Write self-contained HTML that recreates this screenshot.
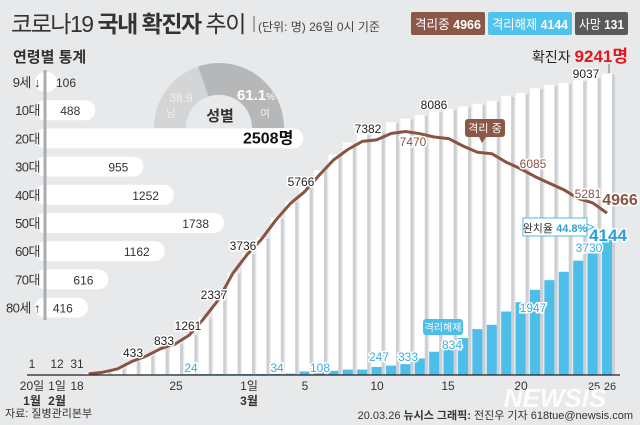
<!DOCTYPE html>
<html><head><meta charset="utf-8"><style>
body{margin:0;width:640px;height:425px;overflow:hidden;background:#e7e9eb;font-family:"Liberation Sans","Noto Sans CJK KR",sans-serif;}
svg{display:block}
text{font-family:"Liberation Sans","Noto Sans CJK KR",sans-serif;}
</style></head><body>
<svg id="s" width="640" height="425" viewBox="0 0 640 425" xmlns="http://www.w3.org/2000/svg">
<rect width="640" height="425" fill="#e7e9eb"/>
<g id="bars"></g>
<text x="11" y="32" font-size="23" fill="#333" letter-spacing="-1.5">코로나19 <tspan font-weight="bold">국내 확진자</tspan> 추이</text>
<line x1="254" y1="16" x2="254" y2="32" stroke="#666"/>
<text x="258" y="31" font-size="12" fill="#444">(단위: 명) 26일 0시 기준</text>
<rect x="411" y="12" width="74" height="23" rx="2" fill="#8b5848"/>
<text x="415" y="29" font-size="13" fill="#fff" textLength="66" lengthAdjust="spacingAndGlyphs">격리중 <tspan font-weight="bold">4966</tspan></text>
<rect x="488" y="12" width="84" height="23" rx="2" fill="#4fc3ee"/>
<text x="492" y="29" font-size="13" fill="#fff" textLength="76" lengthAdjust="spacingAndGlyphs">격리해제 <tspan font-weight="bold">4144</tspan></text>
<rect x="575" y="12" width="53" height="23" rx="2" fill="#5a5a5a"/>
<text x="579" y="29" font-size="13" fill="#fff" textLength="45" lengthAdjust="spacingAndGlyphs">사망 <tspan font-weight="bold">131</tspan></text>
<text x="628" y="62" font-size="14" fill="#222" text-anchor="end">확진자 <tspan font-size="17" font-weight="bold" fill="#e4171c">9241명</tspan></text>
<line x1="609" y1="64" x2="609" y2="73" stroke="#777"/>
<text x="13" y="62" font-size="15" font-weight="bold" fill="#333">연령별 통계</text>
<path d="M154 128 A65 65 0 0 1 198 66.5 L208.5 96.5 A33 33 0 0 0 186 128 Z" fill="#d3d5d7"/>
<path d="M198 66.5 A65 65 0 0 1 284 128 L252 128 A33 33 0 0 0 208.5 96.5 Z" fill="#b5b7b9"/>
<text x="181" y="102" font-size="12" fill="#eee" text-anchor="middle">38.9</text>
<text x="171" y="117" font-size="11" fill="#eee" text-anchor="middle">남</text>
<text x="256" y="100" font-size="15" font-weight="bold" fill="#fff" text-anchor="middle">61.1<tspan font-size="10" font-weight="normal">%</tspan></text>
<text x="265" y="117" font-size="11" fill="#eee" text-anchor="middle">여</text>
<text x="220" y="121" font-size="15" font-weight="bold" fill="#333" text-anchor="middle">성별</text>
<g id="ages"></g>
<line x1="45" y1="70" x2="45" y2="320" stroke="#a9acaf" stroke-width="3"/>
<g id="fg"></g>
<line x1="27" y1="375" x2="620" y2="375" stroke="#222" stroke-width="1.2"/>
<g font-size="12" fill="#333" text-anchor="middle">
<text x="32" y="390">20일</text><text x="57" y="390">1일</text><text x="77" y="390">18</text>
<text x="176" y="390">25</text><text x="249" y="390">1일</text><text x="305" y="390">5</text>
<text x="377" y="390">10</text><text x="448" y="390">15</text><text x="521" y="390">20</text>
<text x="594" y="390" font-size="11">25</text><text x="610" y="390" font-size="11">26</text>
<g font-weight="bold"><text x="32" y="405">1월</text><text x="57" y="405">2월</text><text x="249" y="405">3월</text></g>
<text x="32" y="368">1</text><text x="57" y="368">12</text><text x="77" y="368">31</text>
</g>
<text x="5" y="417" font-size="11" fill="#333">자료: 질병관리본부</text>
<text x="555" y="407" font-size="26" font-weight="bold" font-style="italic" fill="#fff" text-anchor="middle" opacity="0.9">NEWSIS</text>
<text x="633" y="419" font-size="11" fill="#333" text-anchor="end">20.03.26 <tspan font-weight="bold">뉴시스 그래픽:</tspan> 전진우 기자 618tue@newsis.com</text>
</svg>
<script>
var NS="http://www.w3.org/2000/svg";
function el(p,t,a,txt){var e=document.createElementNS(NS,t);for(var k in a)e.setAttribute(k,a[k]);if(txt!=null)e.textContent=txt;p.appendChild(e);return e;}
var C=[51,104,204,433,602,833,977,1261,1766,2337,3150,3736,4212,4812,5328,5766,6284,6767,7134,7382,7513,7755,7869,7979,8086,8162,8236,8320,8413,8565,8652,8799,8897,8961,9037,9137,9241];
var R=[16,16,16,16,18,18,22,24,24,26,27,30,30,34,41,108,118,130,166,166,247,288,333,510,714,834,1137,1407,1540,1947,2233,2612,2909,3166,3507,3730,4144];
var D=[0,1,1,2,5,7,8,10,12,13,16,17,21,28,32,35,42,44,50,51,54,60,66,67,72,75,75,81,84,91,94,102,104,111,120,126,131];
var B=375,S=0.0326,g=document.getElementById('bars'),f=document.getElementById('fg');
var pts=[];
for(var i=0;i<37;i++){var x=88.6+14.4*i,h=C[i]*S;
 el(g,'rect',{x:x-5,y:B-h,width:10,height:h,fill:'#fff'});
 el(g,'rect',{x:x+5,y:B-h+1,width:3,height:h-1,fill:'#cdd0d3'});
 var rh=R[i]*S;el(g,'rect',{x:x-5,y:B-rh,width:10,height:rh,fill:'#4dbde9'});
 pts.push((x).toFixed(1)+','+(B-(C[i]-R[i]-D[i])*S).toFixed(1));}
el(f,'polyline',{points:pts.join(' '),fill:'none',stroke:'#8a5442','stroke-width':3,'stroke-linejoin':'round'});
function lab(x,y,t,c,s,w){el(f,'text',{x:x,y:y,'font-size':s||12,fill:c||'#222','text-anchor':'middle','font-weight':w||'normal',stroke:'#fff','stroke-width':3,'paint-order':'stroke'},t);}
lab(133,357,'433');lab(164,345,'833');lab(188,330,'1261');lab(214,299,'2337');lab(243,250,'3736');
lab(301,186,'5766');lab(368,133,'7382');lab(434,109,'8086');lab(586,78,'9037');
lab(413,146,'7470','#8a5442');lab(533,168,'6085','#8a5442');lab(588,198,'5281','#8a5442');
lab(620,205,'4966','#8a5442',16,'bold');
lab(191,372,'24','#3aaee0');lab(277,372,'34','#3aaee0');lab(320,372,'108','#3aaee0');
lab(379,361,'247','#3aaee0');lab(408,361,'333','#3aaee0');lab(452,349,'834','#3aaee0');lab(533,312,'1947','#3aaee0');lab(589,252,'3730','#3aaee0');
lab(608,241,'4144','#2a9ed6',17,'bold');
el(f,'rect',{x:465,y:119,width:40,height:18,rx:3,fill:'#8b5848'});
el(f,'path',{d:'M479 137 L482 143 L486 137Z',fill:'#8b5848'});
el(f,'text',{x:485,y:132,'font-size':11,fill:'#fff','text-anchor':'middle'},'격리 중');
el(f,'rect',{x:423,y:319,width:40,height:16,rx:3,fill:'#4dbde9'});
el(f,'text',{x:443,y:331,'font-size':10,fill:'#fff','text-anchor':'middle'},'격리해제');
el(f,'rect',{x:523,y:218,width:64,height:18,fill:'#fff',stroke:'#4dbde9'});
el(f,'text',{x:555,y:232,'font-size':11,fill:'#333','text-anchor':'middle'},'완치율 ').appendChild((function(){var t=document.createElementNS(NS,'tspan');t.setAttribute('font-weight','bold');t.setAttribute('fill','#2a9ed6');t.textContent='44.8%';return t;})());
el(f,'path',{d:'M587 224 L594 227 L587 230',fill:'none',stroke:'#4dbde9'});
var A=[['9세 ↓',106],['10대',488],['20대',2508],['30대',955],['40대',1252],['50대',1738],['60대',1162],['70대',616],['80세 ↑',416]];
var ag=document.getElementById('ages');
for(var j=0;j<9;j++){var y=82+28.2*j,w=Math.max(A[j][1]*0.103,12);
 el(ag,'rect',{x:35,y:y-10,width:10+w,height:20,rx:10,fill:'#fff'});
 el(ag,'text',{x:40,y:y+5,'font-size':13,fill:'#333','text-anchor':'end','letter-spacing':'-0.5'},A[j][0]);
 var big=j==2;
 el(ag,'text',{x:j==0?56:(40+w-(big?5:10)),y:y+5,'font-size':big?16:12,'font-weight':big?'bold':'normal',fill:big?'#111':'#333','text-anchor':j==0?'start':'end'},big?'2508명':A[j][1]);}
</script>
</body></html>
